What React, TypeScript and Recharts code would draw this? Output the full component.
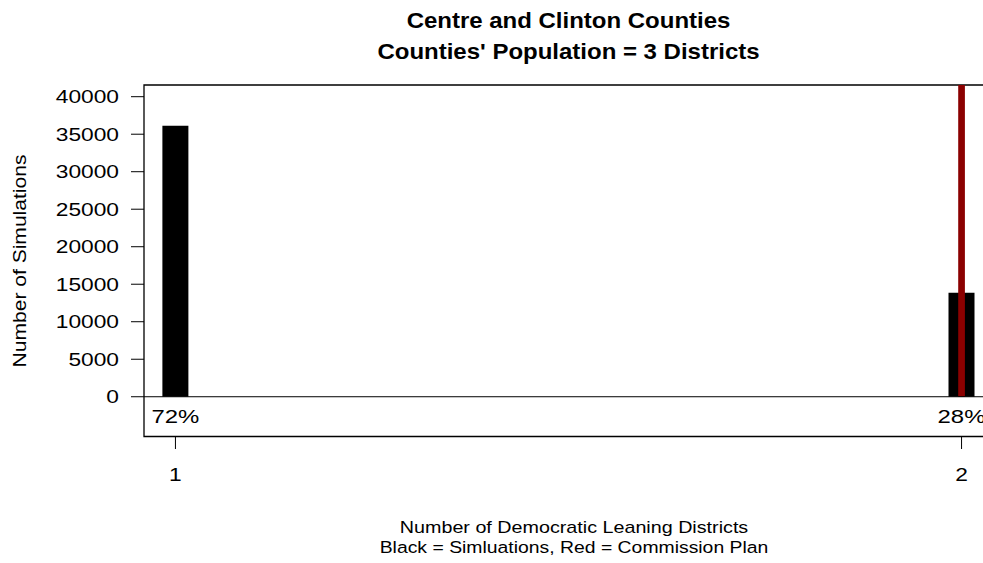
import { BarChart, Bar, XAxis, YAxis, ReferenceLine, ReferenceArea, LabelList } from 'recharts';

const districts = [1, 2];
const simulations = [36130, 13870];
const commissionPlan = 2;
const yTicks = [0, 5000, 10000, 15000, 20000, 25000, 30000, 35000, 40000];
const titleLines = ['Centre and Clinton Counties', "Counties' Population = 3 Districts"];
const xLabelLines = ['Number of Democratic Leaning Districts', 'Black = Simluations, Red = Commission Plan'];
const yLabel = 'Number of Simulations';

const total = simulations.reduce((a, b) => a + b, 0);
const data = districts.map((d, i) => ({
  district: d,
  count: simulations[i],
  pct: `${Math.round((simulations[i] / total) * 100)}%`,
}));

const FONT = '"Liberation Sans", Arial, sans-serif';
const W = 1000;
const H = 563;
const PLOT_L = 144;
const PLOT_T = 85;
const PLOT_B = 436.5;
const X_DOMAIN: [number, number] = [0.96, 2.04];
const Y_DOMAIN: [number, number] = [-5300, 41560];

// the reference glyphs are wider than Liberation Sans, so stretch along the text
function Wide(props: any) {
  const { x, y, sx, size, bold, anchor = 'middle', rotate, children } = props;
  return (
    <text
      transform={`translate(${x},${y})${rotate ? ' rotate(-90)' : ''} scale(${sx},1)`}
      fontFamily={FONT}
      fontSize={size}
      fontWeight={bold ? 'bold' : 'normal'}
      textAnchor={anchor}
      fill="#000"
    >
      {children}
    </text>
  );
}

function YTick(props: any) {
  const { y, payload } = props;
  return (
    <g>
      <line x1={PLOT_L - 13} x2={PLOT_L} y1={y} y2={y} stroke="#000" />
      <Wide x={PLOT_L - 25} y={y + 6.3} sx={1.3} size={17.5} anchor="end">
        {payload.value}
      </Wide>
    </g>
  );
}

function XTick(props: any) {
  const { x, payload } = props;
  return (
    <g>
      <line x1={x} x2={x} y1={PLOT_B} y2={PLOT_B + 12.5} stroke="#000" />
      <Wide x={x} y={481} sx={1.3} size={17.5}>
        {payload.value}
      </Wide>
    </g>
  );
}

function PctLabel(props: any) {
  const { x, y, width, height, value } = props;
  return (
    <Wide x={x + width / 2} y={y + height + 25.8} sx={1.33} size={18}>
      {value}
    </Wide>
  );
}

export default function App() {
  return (
    <div style={{ position: 'absolute', left: 0, top: 0, width: 983, height: H, overflow: 'hidden', background: '#fff' }}>
      <BarChart width={W} height={H} data={data} margin={{ top: PLOT_T, right: 7, left: 44, bottom: 66.5 }}>
        <XAxis
          dataKey="district"
          type="number"
          domain={X_DOMAIN}
          allowDataOverflow
          ticks={districts}
          interval={0}
          height={60}
          axisLine={false}
          tickLine={false}
          tick={<XTick />}
        />
        <YAxis
          type="number"
          domain={Y_DOMAIN}
          allowDataOverflow
          ticks={yTicks}
          interval={0}
          width={100}
          axisLine={false}
          tickLine={false}
          tick={<YTick />}
        />
        <Bar dataKey="count" fill="#000" barSize={26} isAnimationActive={false}>
          <LabelList dataKey="pct" content={<PctLabel />} />
        </Bar>
        <ReferenceLine
          segment={[{ x: commissionPlan, y: 0 }, { x: commissionPlan, y: Y_DOMAIN[1] }]}
          stroke="#8b0000"
          strokeWidth={6.7}
        />
        <ReferenceLine y={0} stroke="#000" strokeWidth={1} />
        <ReferenceArea
          x1={X_DOMAIN[0]}
          x2={X_DOMAIN[1]}
          y1={Y_DOMAIN[0]}
          y2={Y_DOMAIN[1]}
          fill="none"
          stroke="#000"
          strokeWidth={1.3}
        />
      </BarChart>
      <svg width={983} height={H} style={{ position: 'absolute', left: 0, top: 0, pointerEvents: 'none' }}>
        <Wide x={568.5} y={27.5} sx={1.116} size={21.5} bold>{titleLines[0]}</Wide>
        <Wide x={568.5} y={58.5} sx={1.116} size={21.5} bold>{titleLines[1]}</Wide>
        <Wide x={574} y={532.5} sx={1.16} size={17}>{xLabelLines[0]}</Wide>
        <Wide x={574} y={553} sx={1.14} size={17}>{xLabelLines[1]}</Wide>
        <Wide x={26} y={261} sx={1.19} size={17.7} rotate>{yLabel}</Wide>
      </svg>
    </div>
  );
}
